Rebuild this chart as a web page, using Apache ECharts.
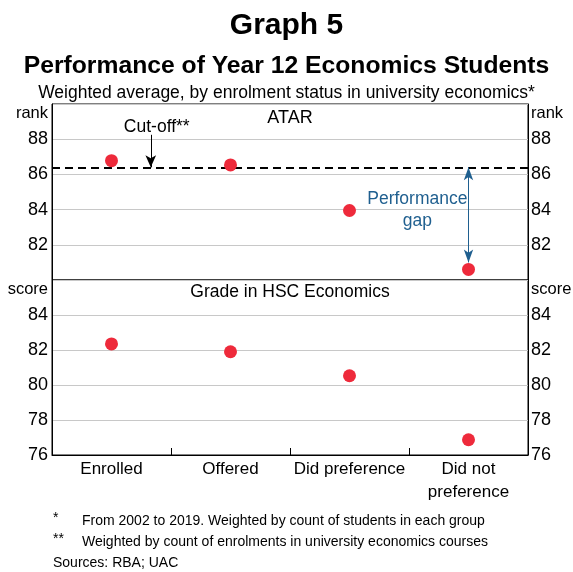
<!DOCTYPE html>
<html><head><meta charset="utf-8">
<script src="https://cdn.jsdelivr.net/npm/echarts@6/dist/echarts.min.js"></script>
<style>html,body{margin:0;padding:0;background:#fff}#c{width:573px;height:572px}</style>
</head><body><div id="c"></div>
<script>
const categories = ['Enrolled', 'Offered', 'Did preference', 'Did not\npreference'];
const atar = [86.78, 86.54, 83.95, 80.6];
const hscGrade = [82.35, 81.9, 80.53, 76.87];
const cutoff = 86.4;
const atarTicks = [82, 84, 86, 88];
const gradeTicks = [76, 78, 80, 82, 84];
const footnotes = ['*', 'From 2002 to 2019. Weighted by count of students in each group',
                   '**', 'Weighted by count of enrolments in university economics courses'];
const sources = 'Sources: RBA; UAC';

const FONT = 'Liberation Sans, Arial, sans-serif';
const RED = '#ee2a3b';
const BLUE = '#1f5f8f';
const chart = echarts.init(document.getElementById('c'), null, {renderer: 'canvas'});

function yAx(grid, pos, min, max, ticks) {
  return {
    type: 'value', gridIndex: grid, position: pos, min: min, max: max, interval: 2,
    axisLine: {show: true, onZero: false, lineStyle: {color: '#000', width: 1}},
    axisTick: {show: false},
    splitLine: {show: pos === 'left', lineStyle: {color: '#c8c8c8', width: 1}},
    axisLabel: {
      color: '#000', fontSize: 18, fontFamily: FONT, margin: pos === 'left' ? 4 : 3,
      formatter: v => ticks.indexOf(v) >= 0 ? String(v) : ''
    }
  };
}

const option = {
  animation: false,
  backgroundColor: '#fff',
  title: [
    {text: 'Graph 5', left: 'center', top: 6, textStyle: {fontSize: 30, fontWeight: 'bold', color: '#000', fontFamily: FONT}},
    {text: 'Performance of Year 12 Economics Students', left: 'center', top: 49, textStyle: {fontSize: 24.7, fontWeight: 'bold', color: '#000', fontFamily: FONT}},
    {text: 'Weighted average, by enrolment status in university economics*', left: 'center', top: 79, textStyle: {fontSize: 17.5, fontWeight: 'normal', color: '#000', fontFamily: FONT}}
  ],
  grid: [
    {left: 52, right: 45, top: 104, height: 176, show: true, borderColor: '#000', borderWidth: 1},
    {left: 52, right: 45, top: 280, height: 175, show: true, borderColor: '#000', borderWidth: 1}
  ],
  xAxis: [
    {type: 'value', gridIndex: 0, min: -0.5, max: 3.5, show: false},
    {type: 'category', gridIndex: 1, data: categories, boundaryGap: true,
     axisLine: {show: true, onZero: false, lineStyle: {color: '#000'}},
     axisTick: {show: true, inside: true, length: 7, lineStyle: {color: '#000'}},
     axisLabel: {color: '#000', fontSize: 17, fontFamily: FONT, margin: 3, lineHeight: 23, interval: 0}},
    {type: 'value', gridIndex: 1, min: -0.5, max: 3.5, show: false}
  ],
  yAxis: [
    yAx(0, 'left', 80, 90, atarTicks),
    yAx(0, 'right', 80, 90, atarTicks),
    yAx(1, 'left', 76, 86, gradeTicks),
    yAx(1, 'right', 76, 86, gradeTicks)
  ],
  series: [
    {
      type: 'scatter', xAxisIndex: 0, yAxisIndex: 0, symbolSize: 13,
      itemStyle: {color: RED, opacity: 1},
      data: atar.map((v, i) => [i, v]),
      z: 5,
      markLine: {
        silent: true, animation: false, z: 3,
        symbol: ['none', 'none'],
        label: {show: false},
        emphasis: {disabled: true},
        data: [
          {yAxis: cutoff, lineStyle: {type: [8, 5], color: '#000', width: 2}},
          [{coord: [0.33, 88.25], symbol: 'none', lineStyle: {type: 'solid', color: '#000', width: 1}},
           {coord: [0.33, cutoff], symbol: 'arrow', symbolSize: [8, 12]}],
          [{coord: [3, cutoff], symbol: 'arrow', symbolSize: [7, 13], lineStyle: {type: 'solid', color: BLUE, width: 1}},
           {coord: [3, 81.0], symbol: 'arrow', symbolSize: [7, 13]}]
        ]
      }
    },
    {
      type: 'scatter', xAxisIndex: 2, yAxisIndex: 2, symbolSize: 13,
      itemStyle: {color: RED, opacity: 1},
      data: hscGrade.map((v, i) => [i, v]),
      z: 5
    }
  ]
};
chart.setOption(option);

const P = (g, x, y) => chart.convertToPixel({xAxisIndex: g === 0 ? 0 : 2, yAxisIndex: g === 0 ? 0 : 2}, [x, y]);
const topL = P(0, -0.5, 90), topR = P(0, 3.5, 90), botL = P(1, -0.5, 86), botR = P(1, 3.5, 86);
const midX = (topL[0] + topR[0]) / 2;
const txt = (x, y, t, o) => ({type: 'text', x: x, y: y, silent: true,
  style: Object.assign({text: t, fill: '#000', font: '16.5px ' + FONT, textAlign: 'left', textVerticalAlign: 'middle'}, o || {})});
const cut = P(0, 0.33, 88.25);
const gapLbl = P(0, 2.57, 84.0);
chart.setOption({
  graphic: [
    txt(midX, topL[1] + 14, 'ATAR', {textAlign: 'center', font: '18px ' + FONT}),
    txt(midX, botL[1] + 12, 'Grade in HSC Economics', {textAlign: 'center', font: '17.5px ' + FONT}),
    txt(topL[0] - 4, topL[1] + 9, 'rank', {textAlign: 'right'}),
    txt(topR[0] + 3, topR[1] + 9, 'rank'),
    txt(botL[0] - 4, botL[1] + 9, 'score', {textAlign: 'right'}),
    txt(botR[0] + 3, botR[1] + 9, 'score'),
    txt(cut[0] + 6, cut[1] - 8, 'Cut-off**', {textAlign: 'center', font: '17.5px ' + FONT}),
    txt(gapLbl[0], gapLbl[1] - 10, 'Performance', {textAlign: 'center', fill: BLUE, font: '17.5px ' + FONT}),
    txt(gapLbl[0], gapLbl[1] + 12, 'gap', {textAlign: 'center', fill: BLUE, font: '17.5px ' + FONT}),
    txt(53, 518, footnotes[0], {font: '14px ' + FONT}),
    txt(82, 521, footnotes[1], {font: '14px ' + FONT}),
    txt(53, 539, footnotes[2], {font: '14px ' + FONT}),
    txt(82, 542, footnotes[3], {font: '14px ' + FONT}),
    txt(53, 563, sources, {font: '14px ' + FONT})
  ]
});
</script></body></html>
